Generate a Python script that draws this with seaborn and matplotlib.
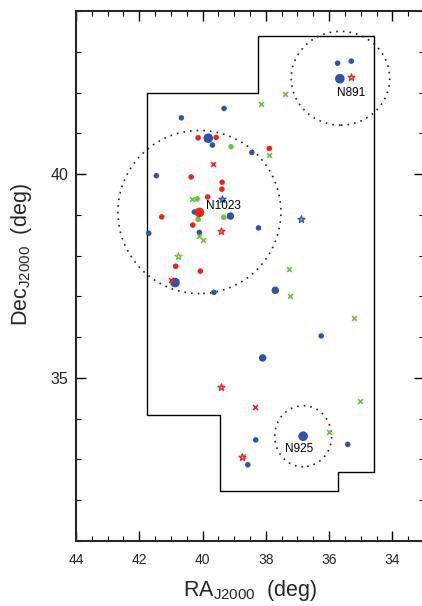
import numpy as np
import pandas as pd
import matplotlib
matplotlib.use("Agg")
import matplotlib.pyplot as plt
from matplotlib.patches import Ellipse, Polygon
from matplotlib.ticker import MultipleLocator, FixedLocator
import seaborn as sns

# Survey footprint corners (RA, Dec in degrees)
footprint_ra = [41.77, 41.77, 38.26, 38.26, 34.57, 34.57, 35.73, 35.73, 39.45, 39.45]
footprint_dec = [34.09, 42.00, 42.00, 43.39, 43.39, 32.70, 32.70, 32.23, 32.23, 34.09]

# Group fields: centre and angular radius (deg)
group_names = ["N1023", "N891", "N925"]
group_ra = [40.10, 35.64, 36.82]
group_dec = [39.07, 42.35, 33.57]
group_radius = [2.0, 1.15, 0.75]

# Blue galaxies
blue_small_ra = [39.32, 40.67, 39.69, 38.44, 41.46, 40.26, 38.23, 41.70, 40.10, 39.64,
                 36.25, 38.32, 35.41, 38.57, 35.73, 35.30]
blue_small_dec = [41.61, 41.38, 40.71, 40.53, 39.96, 39.07, 38.68, 38.55, 38.57, 37.10,
                  36.03, 33.48, 33.37, 32.87, 42.72, 42.77]
blue_mid_ra = [39.12, 37.70, 38.10]
blue_mid_dec = [38.97, 37.15, 35.49]
blue_big_ra = [39.82, 40.87, 35.66, 36.82]
blue_big_dec = [40.88, 37.34, 42.34, 33.57]

# Red galaxies
red_small_ra = [40.14, 39.57, 37.89, 40.36, 39.38, 39.39, 39.84, 41.29, 40.31, 40.85, 40.07]
red_small_dec = [40.89, 40.90, 40.63, 39.93, 39.80, 39.63, 39.44, 38.95, 38.75, 37.74, 37.62]
red_big_ra = [40.10]
red_big_dec = [39.06]

# Green galaxies
green_ra = [39.10, 40.17, 39.33, 40.14]
green_dec = [40.67, 39.39, 38.94, 38.89]

# Crosses
red_x_ra = [39.66, 41.00, 38.34]
red_x_dec = [40.25, 37.41, 34.28]
green_x_ra = [38.16, 37.40, 37.89, 40.33, 40.11, 39.99, 37.27, 37.24, 35.22, 35.02, 36.01, 38.72]
green_x_dec = [41.71, 41.96, 40.47, 39.40, 38.48, 38.39, 37.66, 37.02, 36.47, 34.44, 33.68, 33.09]

# Stars
blue_star_ra = [39.37, 36.90]
blue_star_dec = [39.39, 38.89]
red_star_ra = [39.42, 39.41, 38.76, 35.30]
red_star_dec = [38.60, 34.77, 33.05, 42.38]
green_star_ra = [40.77]
green_star_dec = [37.99]

BLUE = "#3252a6"
RED = "#ef2020"
GREEN = "#6cc444"

sns.set_style("ticks")
plt.rcParams["font.family"] = ["Liberation Sans", "DejaVu Sans"]
plt.rcParams["mathtext.fontset"] = "custom"
plt.rcParams["mathtext.rm"] = "Liberation Sans"
plt.rcParams["mathtext.it"] = "Liberation Sans:italic"

fig = plt.figure(figsize=(4.22, 6.06), dpi=100)
ax = fig.add_axes([76 / 422, 1 - 541 / 606, 348 / 422, 530 / 606])

# footprint outline
ax.add_patch(Polygon(np.column_stack([footprint_ra, footprint_dec]), closed=True,
                     fill=False, edgecolor="black", linewidth=1.0, zorder=1))

# group circles (sky circles, RA stretched by 1/cos(Dec))
for ra0, dec0, r in zip(group_ra, group_dec, group_radius):
    ax.add_patch(Ellipse((ra0, dec0), 2 * r / np.cos(np.radians(dec0)), 2 * r,
                         fill=False, edgecolor="#222222", linewidth=1.2,
                         linestyle=(0, (1, 3)), zorder=1))


def draw(ra, dec, color, marker, size, **kw):
    df = pd.DataFrame({"ra": ra, "dec": dec})
    sns.scatterplot(data=df, x="ra", y="dec", color=color, marker=marker, s=size,
                    ax=ax, legend=False, zorder=3, **kw)


draw(blue_small_ra, blue_small_dec, BLUE, "o", 16, edgecolor="none")
draw(blue_mid_ra, blue_mid_dec, BLUE, "o", 29, edgecolor="none")
draw(blue_big_ra, blue_big_dec, BLUE, "o", 48, edgecolor="none")
draw(green_ra, green_dec, GREEN, "o", 16, edgecolor="none")
draw(red_small_ra, red_small_dec, RED, "o", 16, edgecolor="none")
draw(red_big_ra, red_big_dec, RED, "o", 48, edgecolor="none")
draw(green_x_ra, green_x_dec, GREEN, "x", 12, linewidth=1.2)
draw(red_x_ra, red_x_dec, RED, "x", 12, linewidth=1.2)
draw(blue_star_ra, blue_star_dec, BLUE, "*", 28, facecolor="#9fb0e0",
     edgecolor=BLUE, linewidth=0.9)
draw(red_star_ra, red_star_dec, RED, "*", 28, facecolor="#ffb0b0",
     edgecolor=RED, linewidth=0.9)
draw(green_star_ra, green_star_dec, GREEN, "*", 28, facecolor="#c8ecb0",
     edgecolor=GREEN, linewidth=0.9)

# group labels
label_pos = {"N1023": (39.90, 39.22, "left"), "N891": (35.29, 42.00, "center"),
             "N925": (36.96, 33.26, "center")}
for name in group_names:
    x, y, ha = label_pos[name]
    ax.text(x, y, name, fontsize=8.5, ha=ha, va="center", color="black", zorder=4)

ax.set_xlim(44, 33)
ax.set_ylim(31, 44)
ax.xaxis.set_major_locator(FixedLocator([44, 42, 40, 38, 36, 34]))
ax.xaxis.set_minor_locator(MultipleLocator(0.5))
ax.yaxis.set_major_locator(FixedLocator([35, 40]))
ax.yaxis.set_minor_locator(MultipleLocator(1))

for sp in ax.spines.values():
    sp.set_linewidth(1.5)
    sp.set_visible(True)
ax.tick_params(which="both", direction="in", top=True, right=True, color="black")
ax.tick_params(which="major", length=7.2, width=1.0)
ax.tick_params(which="minor", length=3.6, width=0.8)
ax.tick_params(axis="x", which="major", labelsize=10, pad=8.6)
ax.tick_params(axis="y", which="major", labelsize=11.5, pad=5.5)

ax.set_xlabel(r"RA$_{\rm J2000}$  (deg)", fontsize=15.5, va="center")
ax.xaxis.set_label_coords(0.5, -0.094)
ax.set_ylabel(r"Dec$_{\rm J2000}$  (deg)", fontsize=15.5, va="center")
ax.yaxis.set_label_coords(-0.158, 0.54)

fig.savefig("out.png", dpi=100)
